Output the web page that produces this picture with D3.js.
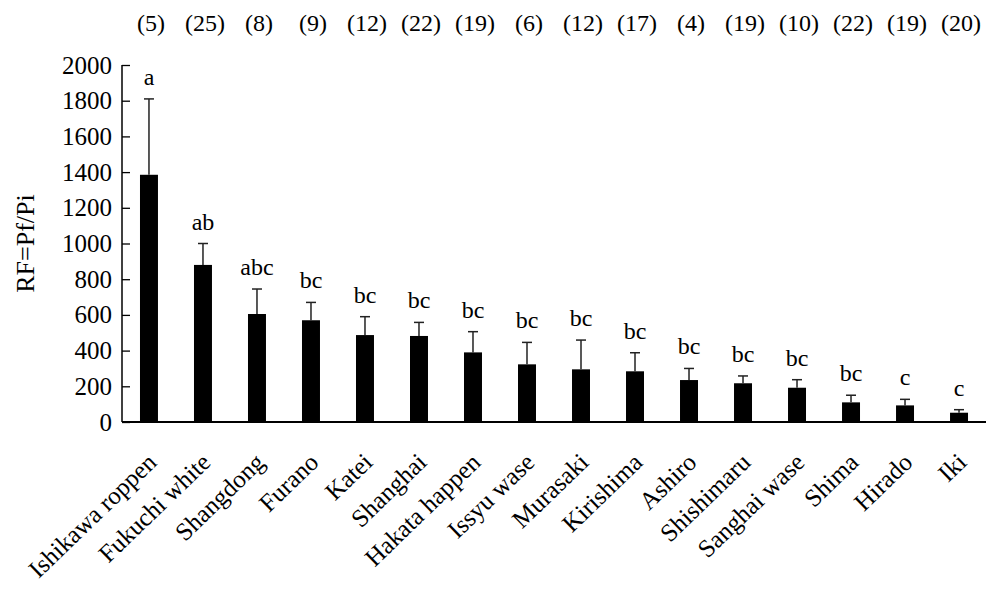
<!DOCTYPE html>
<html><head><meta charset="utf-8">
<script src="https://cdn.jsdelivr.net/npm/d3@7"></script>
<style>body{margin:0;background:#fff}</style>
</head><body>
<svg id="c" width="994" height="591"></svg>
<script>
const categories = ["Ishikawa roppen","Fukuchi white","Shangdong","Furano","Katei","Shanghai","Hakata happen","Issyu wase","Murasaki","Kirishima","Ashiro","Shishimaru","Sanghai wase","Shima","Hirado","Iki"];
const means = [1385,880,605,570,487,482,390,323,295,284,235,217,192,110,93,52];
const errTops = [1810,1000,745,670,590,558,506,446,459,388,300,258,237,150,127,69];
const letters = ["a","ab","abc","bc","bc","bc","bc","bc","bc","bc","bc","bc","bc","bc","c","c"];
const counts = ["(5)","(25)","(8)","(9)","(12)","(22)","(19)","(6)","(12)","(17)","(4)","(19)","(10)","(22)","(19)","(20)"];
const yTicks = [0,200,400,600,800,1000,1200,1400,1600,1800,2000];

const svg = d3.select("#c");
const font = "'Liberation Serif','Times New Roman',serif";
const L = 122, R = 986, T = 65, B = 422;
const x = d3.scaleBand().domain(categories).range([L, R]).paddingInner(0.667).paddingOuter(0.333);
const y = d3.scaleLinear().domain([0, 2000]).range([B, T]);

// bars
svg.selectAll("rect.bar").data(categories).join("rect")
  .attr("x", d => x(d)).attr("width", x.bandwidth())
  .attr("y", (d,i) => y(means[i])).attr("height", (d,i) => B - y(means[i]))
  .attr("fill", "#000");

// error bars
const eb = svg.append("g").attr("stroke", "#222").attr("stroke-width", 1.5);
categories.forEach((c,i) => {
  const cx = x(c) + x.bandwidth()/2;
  eb.append("line").attr("x1", cx).attr("x2", cx).attr("y1", y(means[i])).attr("y2", y(errTops[i]));
  eb.append("line").attr("x1", cx-5).attr("x2", cx+5).attr("y1", y(errTops[i])).attr("y2", y(errTops[i]));
});

// y axis
const ya = d3.axisLeft(y).tickValues(yTicks).tickFormat(d3.format("d")).tickSize(-8).tickPadding(10);
const yg = svg.append("g").attr("transform", `translate(${L},0)`).call(ya);
yg.attr("font-family", font);
yg.select(".domain").attr("stroke", "#000").attr("stroke-width", 1.5).attr("d", `M0,${B}V${T}`);
yg.selectAll(".tick line").attr("stroke", "#000").attr("stroke-width", 1.3);
yg.selectAll(".tick text").attr("font-family", font).attr("font-size", 25).attr("fill", "#000");

// x axis
const xa = d3.axisBottom(x).tickSize(0).tickPadding(0);
const xg = svg.append("g").attr("transform", `translate(0,${B})`).call(xa);
xg.attr("font-family", font);
xg.select(".domain").attr("stroke", "#000").attr("stroke-width", 1.8).attr("d", `M${L},0H${R}`);
xg.selectAll(".tick text")
  .attr("font-family", font).attr("font-size", 25).attr("fill", "#000")
  .attr("text-anchor", "end")
  .attr("transform", "translate(9,42) rotate(-44)")
  .attr("dy", "0").attr("y", 0);

// letters
svg.selectAll("text.let").data(categories).join("text")
  .attr("x", d => x(d) + x.bandwidth()/2).attr("y", (d,i) => y(errTops[i]) - 14)
  .attr("text-anchor", "middle").attr("font-family", font).attr("font-size", 24)
  .text((d,i) => letters[i]);

// counts
svg.selectAll("text.cnt").data(categories).join("text")
  .attr("x", d => x(d) + x.bandwidth()/2 + 2).attr("y", 31)
  .attr("text-anchor", "middle").attr("font-family", font).attr("font-size", 24)
  .text((d,i) => counts[i]);

// y label
svg.append("text").attr("transform", `translate(34,${(T+B)/2}) rotate(-90)`)
  .attr("text-anchor", "middle").attr("font-family", font).attr("font-size", 26)
  .text("RF=Pf/Pi");
</script>
</body></html>
